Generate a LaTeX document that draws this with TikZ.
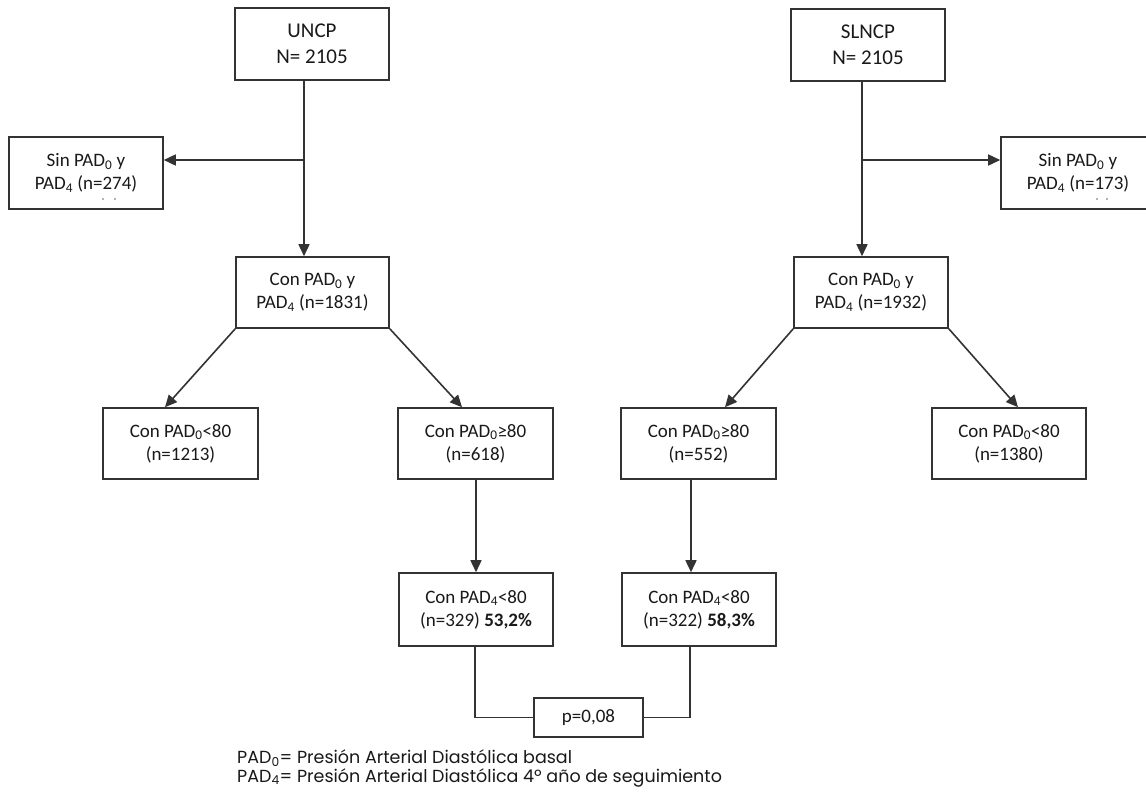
\documentclass[tikz,border=0pt]{standalone}
\usepackage{fontspec}
\setmainfont{Carlito}
\newfontfamily\legendfont{Poppins}
\usetikzlibrary{arrows.meta}
\definecolor{linec}{HTML}{333333}
\tikzset{
  box/.style={draw=linec, line width=1.6pt, inner sep=0pt, align=center,
    font=\fontsize{19}{23}\selectfont, text=black!90},
  arr/.style={draw=linec, line width=1.6pt, -{Triangle[length=12pt,width=11pt]}},
  conn/.style={draw=linec, line width=1.6pt},
  legend/.style={anchor=base west, inner sep=0pt, font=\legendfont\fontsize{17.5}{19}\selectfont, text=black!90},
  spot/.style={fill=black!60, circle, inner sep=0pt, minimum size=1.6pt}
}
\newcommand{\sub}[1]{\textsubscript{#1}}
\begin{document}
\begin{tikzpicture}[x=1pt,y=-1pt]
\clip (0,0) rectangle (1146,793);
\fill[white] (0,0) rectangle (1146,793);
% top boxes
\node[box, minimum width=154pt, minimum height=72pt, font=\fontsize{21}{26}\selectfont] (uncp) at (312,44) {UNCP\\N= 2105};
\node[box, minimum width=154pt, minimum height=72pt, font=\fontsize{21}{26}\selectfont] (slncp) at (868,45) {SLNCP\\N= 2105};
% excluded
\node[box, minimum width=154pt, minimum height=72pt] (sinL) at (86,173) {Sin PAD\sub{0} y\\PAD\sub{4} (n=274)};
\node[box, minimum width=154pt, minimum height=72pt] (sinR) at (1078,173) {Sin PAD\sub{0} y\\PAD\sub{4} (n=173)};
\node[spot] (dl1) at (103,199) {};
\node[spot] (dl2) at (115,199) {};
\node[spot] (dr1) at (1097,199) {};
\node[spot] (dr2) at (1107,199) {};
% with data
\node[box, minimum width=153pt, minimum height=71pt] (conL) at (312.5,292.5) {Con PAD\sub{0} y\\PAD\sub{4} (n=1831)};
\node[box, minimum width=154pt, minimum height=71pt] (conR) at (871,292.5) {Con PAD\sub{0} y\\PAD\sub{4} (n=1932)};
% third row
\node[box, minimum width=155pt, minimum height=71pt] (L1) at (180.5,443.5) {Con PAD\sub{0}<80\\(n=1213)};
\node[box, minimum width=155pt, minimum height=71pt] (L2) at (475.5,443.5) {Con PAD\sub{0}≥80\\(n=618)};
\node[box, minimum width=155pt, minimum height=71pt] (R1) at (698.5,443.5) {Con PAD\sub{0}≥80\\(n=552)};
\node[box, minimum width=154pt, minimum height=71pt] (R2) at (1009,443.5) {Con PAD\sub{0}<80\\(n=1380)};
% fourth row
\node[box, minimum width=154pt, minimum height=73pt] (L3) at (476,609.5) {Con PAD\sub{4}<80\\(n=329) \textbf{53,2\%}};
\node[box, minimum width=154pt, minimum height=73pt] (R3) at (699,609.5) {Con PAD\sub{4}<80\\(n=322) \textbf{58,3\%}};
% p value
\node[box, minimum width=109pt, minimum height=39pt] (p) at (588.5,717.5) {p=0,08};
% junctions
\coordinate (jL) at (304,160);
\coordinate (jR) at (862,160);
% connectors
\draw[arr] (uncp.south -| jL) -- (conL.north -| jL);
\draw[arr] (jL) -- (sinL.east |- jL);
\draw[arr] (slncp.south -| jR) -- (conR.north -| jR);
\draw[arr] (jR) -- (sinR.west |- jR);
\draw[arr] (conL.south west) -- ([xshift=-15.5pt]L1.north);
\draw[arr] (conL.south east) -- ([xshift=-13.5pt]L2.north);
\draw[arr] (conR.south west) -- ([xshift=26.5pt]R1.north);
\draw[arr] (conR.south east) -- ([xshift=9pt]R2.north);
\draw[arr] (L2.south -| L3.north) -- (L3.north);
\draw[arr] ([xshift=-7.5pt]R1.south) -- ([xshift=-8pt]R3.north);
\draw[conn] ([xshift=-1pt]L3.south) |- (p.west);
\draw[conn] ([xshift=-9pt]R3.south) |- (p.east);
% legend
\node[legend] (leg1) at (237,763) {PAD\sub{0}= Presión Arterial Diastólica basal};
\node[legend] (leg2) at (237,782) {PAD\sub{4}= Presión Arterial Diastólica 4º año de seguimiento};
\end{tikzpicture}
\end{document}
